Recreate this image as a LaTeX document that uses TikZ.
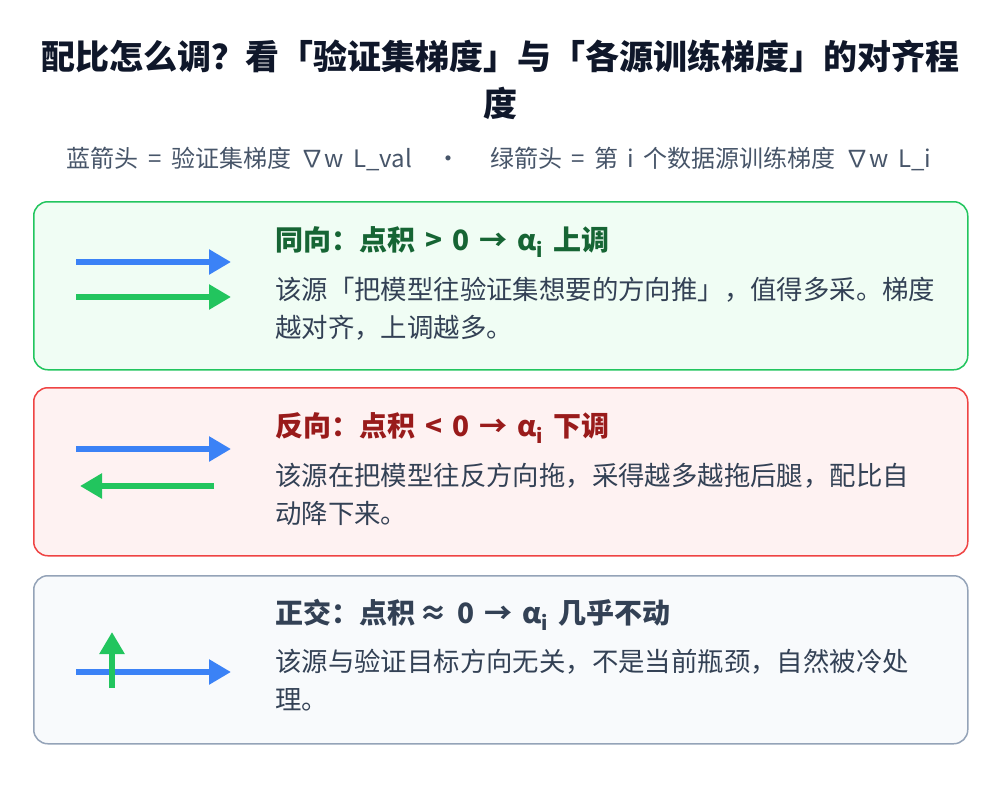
\documentclass[tikz,border=0pt]{standalone}
\usepackage{fontspec}
\setmainfont{Noto Sans CJK SC}
\usetikzlibrary{arrows.meta}
\definecolor{titleInk}{HTML}{0F172A}
\definecolor{subInk}{HTML}{475569}
\definecolor{bodyInk}{HTML}{334155}
\definecolor{gradBlue}{HTML}{3B82F6}
\definecolor{gradGreen}{HTML}{22C55E}
\definecolor{alignFill}{HTML}{F0FDF4}
\definecolor{alignInk}{HTML}{166534}
\definecolor{opposeFill}{HTML}{FEF2F2}
\definecolor{opposeLine}{HTML}{EF4444}
\definecolor{opposeInk}{HTML}{991B1B}
\definecolor{orthoFill}{HTML}{F8FAFC}
\definecolor{orthoLine}{HTML}{94A3B8}
\newcommand{\sgap}{\hspace{9.5pt}}
\newcommand{\hgap}{\hspace{10pt}}
\tikzset{ card/.style = { rounded corners = 14pt
                        , line width     = 1.5pt
                        , minimum width  = 934pt
                        , minimum height = 168pt
                        , inner sep      = 0pt
                        , anchor         = north west
                        },
          head/.style = { anchor    = base west
                        , inner sep = 0pt
                        , font      = \fontsize{28}{30}\selectfont\bfseries
                        },
          body/.style = { anchor    = base west
                        , inner sep = 0pt
                        , align     = left
                        , text      = bodyInk
                        , font      = \fontsize{26.4}{38}\selectfont
                        },
          grad/.style = { line width = 6pt
                        , -{Triangle[length=22pt, width=24pt]}
                        }
        }

\begin{document}
\begin{tikzpicture}[x=1pt, y=-1pt]
  \useasboundingbox[fill=white] (0,0) rectangle (1000,792);

  % title and legend
  \node[font=\fontsize{34}{47}\selectfont\bfseries, text=titleInk, align=center, inner sep=0pt]
      (title) at (500,80) {配比怎么调？看「验证集梯度」与「各源训练梯度」的对齐程\\度};
  \node[font=\fontsize{24}{26}\selectfont, text=subInk, inner sep=0pt]
      (legend) at (499,159) {蓝箭头{\sgap}={\sgap}验证集梯度{\sgap}∇w{\sgap}L\_val\hspace{24pt}·\hspace{30pt}绿箭头{\sgap}={\sgap}第{\sgap}i{\sgap}个数据源训练梯度{\sgap}∇w{\sgap}L\_i};

  % same direction
  \node[card, draw=gradGreen, fill=alignFill] (same) at (33,201) {};
  \node[head, text=alignInk] (sameHead) at (275,250) {同向：点积{\hgap}>{\hgap}0{\hgap}→{\hgap}α\textsubscript{i}{\hgap}上调};
  \node[body] (sameBody) at (275,337) {该源「把模型往验证集想要的方向推」，值得多采。梯度\\越对齐，上调越多。};
  \coordinate (sb0) at (76,262);  \coordinate (sb1) at (231,262);
  \coordinate (sg0) at (76,297);  \coordinate (sg1) at (231,297);
  \draw[grad, gradBlue]  (sb0) -- (sb1);
  \draw[grad, gradGreen] (sg0) -- (sg1);

  % opposite direction
  \node[card, draw=opposeLine, fill=opposeFill] (oppo) at (33,387) {};
  \node[head, text=opposeInk] (oppoHead) at (275,436) {反向：点积{\hgap}<{\hgap}0{\hgap}→{\hgap}α\textsubscript{i}{\hgap}下调};
  \node[body] (oppoBody) at (275,523) {该源在把模型往反方向拖，采得越多越拖后腿，配比自\\动降下来。};
  \coordinate (ob0) at (76,449);  \coordinate (ob1) at (231,449);
  \coordinate (og0) at (214,486); \coordinate (og1) at (80,486);
  \draw[grad, gradBlue]  (ob0) -- (ob1);
  \draw[grad, gradGreen] (og0) -- (og1);

  % orthogonal
  \node[card, draw=orthoLine, fill=orthoFill] (orth) at (33,575) {};
  \node[head, text=bodyInk] (orthHead) at (275,623) {正交：点积\hspace{4pt}≈{\hgap}0{\hgap}→{\hgap}α\textsubscript{i}{\hgap}几乎不动};
  \node[body] (orthBody) at (275,709) {该源与验证目标方向无关，不是当前瓶颈，自然被冷处\\理。};
  \coordinate (tb0) at (76,672);  \coordinate (tb1) at (231,672);
  \coordinate (tg0) at (112,688); \coordinate (tg1) at (112,632);
  \draw[grad, gradBlue]  (tb0) -- (tb1);
  \draw[grad, gradGreen] (tg0) -- (tg1);
\end{tikzpicture}
\end{document}
